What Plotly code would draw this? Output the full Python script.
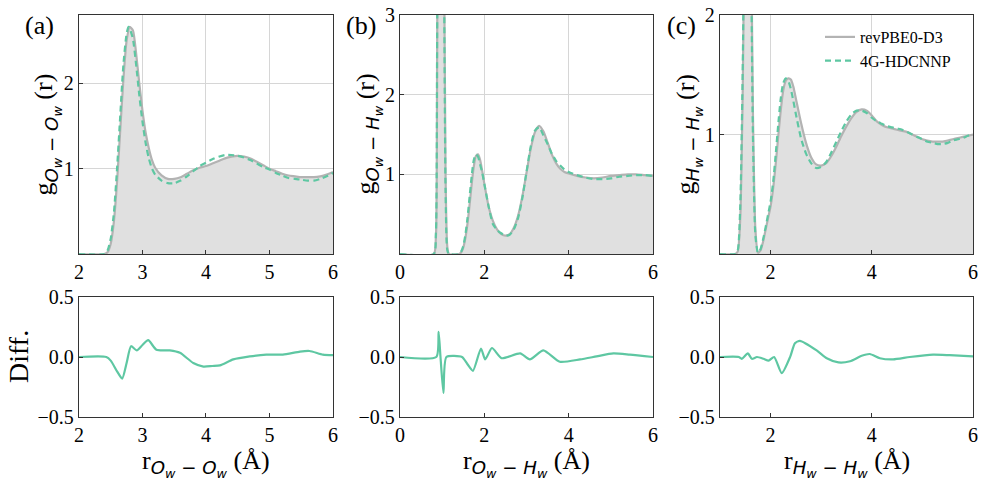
import plotly.graph_objects as go

# ---------------- data ----------------
# (a) O_w - O_w
oo_r_ref = [2.0, 2.40, 2.45, 2.50, 2.55, 2.60, 2.65, 2.70, 2.75, 2.80, 2.85, 2.90, 2.95, 3.00, 3.05, 3.10, 3.15, 3.20,
            3.30, 3.40, 3.50, 3.60, 3.70, 3.80, 3.90, 4.00, 4.10, 4.20, 4.30, 4.40, 4.50, 4.60, 4.70, 4.80, 4.90,
            5.00, 5.10, 5.20, 5.30, 5.40, 5.50, 5.60, 5.70, 5.80, 5.90, 6.00]
oo_g_ref = [0.0, 0.0, 0.02, 0.12, 0.38, 0.85, 1.45, 2.05, 2.50, 2.66, 2.62, 2.35, 2.00, 1.68, 1.42, 1.24, 1.10, 1.01,
            0.92, 0.88, 0.88, 0.90, 0.94, 0.98, 1.01, 1.03, 1.06, 1.09, 1.12, 1.14, 1.15, 1.14, 1.12, 1.08, 1.04,
            1.00, 0.97, 0.94, 0.92, 0.91, 0.90, 0.90, 0.90, 0.91, 0.93, 0.96]
oo_r_nn = [2.0, 2.40, 2.45, 2.50, 2.55, 2.60, 2.65, 2.70, 2.75, 2.78, 2.80, 2.85, 2.90, 2.95, 3.00, 3.05, 3.10, 3.15,
           3.20, 3.30, 3.40, 3.50, 3.60, 3.70, 3.80, 3.90, 4.00, 4.10, 4.20, 4.30, 4.40, 4.50, 4.60, 4.70, 4.80,
           4.90, 5.00, 5.10, 5.20, 5.30, 5.40, 5.50, 5.60, 5.70, 5.80, 5.90, 6.00]
oo_g_nn = [0.0, 0.0, 0.04, 0.18, 0.48, 1.00, 1.62, 2.22, 2.58, 2.66, 2.64, 2.52, 2.22, 1.86, 1.55, 1.30, 1.12, 1.00,
           0.93, 0.86, 0.83, 0.83, 0.86, 0.91, 0.97, 1.03, 1.07, 1.11, 1.14, 1.16, 1.16, 1.15, 1.13, 1.10, 1.06,
           1.02, 0.99, 0.95, 0.92, 0.89, 0.88, 0.87, 0.86, 0.86, 0.88, 0.91, 0.95]
oo_r_diff = [2.0, 2.43, 2.50, 2.60, 2.68, 2.75, 2.82, 2.91, 3.00, 3.09, 3.22, 3.43, 3.59, 3.80, 3.96, 4.10, 4.22,
             4.43, 4.69, 4.95, 5.21, 5.48, 5.63, 5.84, 6.00]
oo_diff = [0.0, 0.0, -0.03, -0.12, -0.18, -0.05, 0.09, 0.055, 0.10, 0.14, 0.06, 0.055, 0.035, -0.05, -0.08, -0.075,
           -0.07, -0.02, 0.005, 0.02, 0.02, 0.045, 0.05, 0.02, 0.015]

# (b) O_w - H_w
oh_r_ref = [0.0, 0.80, 0.85, 0.88, 0.92, 0.96, 1.00, 1.04, 1.08, 1.12, 1.16, 1.40, 1.45, 1.50, 1.55, 1.60, 1.65, 1.70,
            1.75, 1.80, 1.85, 1.90, 1.95, 2.00, 2.10, 2.20, 2.30, 2.40, 2.50, 2.60, 2.70, 2.80, 2.90, 3.00, 3.10,
            3.20, 3.30, 3.40, 3.50, 3.60, 3.70, 3.80, 3.90, 4.00, 4.20, 4.40, 4.60, 4.80, 5.00, 5.20, 5.40, 5.60,
            5.80, 6.00]
oh_g_ref = [0.0, 0.0, 0.2, 2.5, 8.5, 11.5, 9.5, 4.5, 1.0, 0.1, 0.0, 0.0, 0.02, 0.08, 0.20, 0.38, 0.62, 0.88,
            1.10, 1.23, 1.25, 1.18, 1.04, 0.88, 0.60, 0.42, 0.31, 0.25, 0.23, 0.25, 0.33, 0.48, 0.72, 1.02, 1.32,
            1.53, 1.61, 1.54, 1.40, 1.25, 1.14, 1.07, 1.03, 1.01, 0.98, 0.96, 0.95, 0.96, 0.98, 0.99, 1.00, 1.00,
            0.99, 0.98]
oh_r_nn = oh_r_ref
oh_g_nn = [0.0, 0.0, 0.25, 2.7, 8.7, 11.5, 9.2, 4.0, 0.8, 0.05, 0.0, 0.0, 0.03, 0.10, 0.24, 0.45, 0.72, 0.98,
           1.18, 1.25, 1.22, 1.12, 1.02, 0.88, 0.60, 0.38, 0.30, 0.26, 0.23, 0.24, 0.31, 0.45, 0.70, 1.03, 1.35,
           1.55, 1.59, 1.49, 1.38, 1.26, 1.17, 1.11, 1.06, 1.03, 0.99, 0.96, 0.94, 0.94, 0.95, 0.97, 0.98, 0.99,
           0.99, 0.98]
oh_r_diff = [0.0, 0.86, 0.915, 0.96, 1.03, 1.10, 1.47, 1.60, 1.73, 1.92, 2.02, 2.18, 2.41, 2.85, 3.08, 3.40, 3.79,
             4.27, 4.66, 5.06, 5.45, 6.00]
oh_diff = [0.0, 0.0, 0.21, 0.0, -0.30, 0.0, 0.0, -0.06, -0.115, 0.07, -0.02, 0.075, -0.01, 0.03, -0.02, 0.055, -0.04,
           -0.02, 0.005, 0.03, 0.02, 0.0]

# (c) H_w - H_w
hh_r_ref = [1.00, 1.30, 1.35, 1.40, 1.45, 1.50, 1.55, 1.60, 1.65, 1.70, 1.75, 1.80, 1.85, 1.90, 1.95, 2.00, 2.05,
            2.10, 2.15, 2.20, 2.25, 2.30, 2.35, 2.40, 2.45, 2.50, 2.60, 2.70, 2.80, 2.90, 3.00, 3.10, 3.20, 3.30,
            3.40, 3.50, 3.60, 3.70, 3.80, 3.90, 4.00, 4.10, 4.20, 4.30, 4.40, 4.50, 4.60, 4.70, 4.80, 4.90, 5.00,
            5.10, 5.20, 5.30, 5.40, 5.50, 5.60, 5.70, 5.80, 5.90, 6.00]
hh_g_ref = [0.0, 0.0, 0.02, 0.3, 1.4, 3.4, 4.4, 3.3, 1.2, 0.2, 0.01, 0.03, 0.10, 0.20, 0.30, 0.40, 0.55,
            0.75, 0.98, 1.20, 1.37, 1.45, 1.47, 1.46, 1.40, 1.30, 1.10, 0.93, 0.81, 0.75, 0.74, 0.76, 0.82, 0.90,
            0.99, 1.07, 1.14, 1.19, 1.21, 1.20, 1.16, 1.11, 1.08, 1.06, 1.05, 1.04, 1.03, 1.02, 1.00, 0.98, 0.96,
            0.95, 0.94, 0.94, 0.94, 0.95, 0.96, 0.97, 0.98, 0.99, 1.00]
hh_r_nn = hh_r_ref
hh_g_nn = [0.0, 0.0, 0.03, 0.4, 1.6, 3.6, 4.4, 3.1, 1.0, 0.15, 0.01, 0.04, 0.12, 0.22, 0.33, 0.44, 0.60,
           0.83, 1.08, 1.30, 1.43, 1.47, 1.45, 1.38, 1.28, 1.17, 0.97, 0.84, 0.76, 0.72, 0.73, 0.77, 0.85, 0.94,
           1.03, 1.11, 1.17, 1.20, 1.20, 1.18, 1.14, 1.11, 1.09, 1.07, 1.06, 1.05, 1.04, 1.02, 1.00, 0.98, 0.96,
           0.94, 0.93, 0.92, 0.92, 0.93, 0.95, 0.96, 0.97, 0.99, 1.00]
hh_r_diff = [1.00, 1.37, 1.43, 1.55, 1.63, 1.73, 1.86, 1.96, 2.07, 2.22, 2.39, 2.48, 2.58, 2.91, 3.11, 3.34, 3.57,
             3.80, 3.96, 4.16, 4.42, 4.75, 5.21, 5.54, 6.00]
hh_diff = [0.0, 0.0, -0.015, 0.03, -0.015, 0.0, -0.015, -0.03, 0.0, -0.135, 0.005, 0.115, 0.135, 0.055, -0.01,
           -0.045, -0.035, 0.01, 0.025, -0.01, -0.02, 0.0, 0.02, 0.015, 0.005]

labels = ["(a)", "(b)", "(c)"]
legend_names = ["revPBE0-D3", "4G-HDCNNP"]

# ---------------- style ----------------
TEAL = "#5ec7a2"
GRAYLINE = "#b3b3b3"
FILL = "#e0e0e0"
SERIF = "Liberation Serif"

panels = [
    dict(r_ref=oo_r_ref, g_ref=oo_g_ref, r_nn=oo_r_nn, g_nn=oo_g_nn, r_d=oo_r_diff, d=oo_diff,
         xr=[2, 6], yr=[0, 2.8], xt=[2, 3, 4, 5, 6], yt=[1, 2], xb=[2, 3, 4, 5, 6],
         dom=[0.0800, 0.3374], a="O", b="O"),
    dict(r_ref=oh_r_ref, g_ref=oh_g_ref, r_nn=oh_r_nn, g_nn=oh_g_nn, r_d=oh_r_diff, d=oh_diff,
         xr=[0, 6], yr=[0, 3], xt=[0, 2, 4, 6], yt=[1, 2, 3], xb=[0, 2, 4, 6],
         dom=[0.4053, 0.6616], a="O", b="H"),
    dict(r_ref=hh_r_ref, g_ref=hh_g_ref, r_nn=hh_r_nn, g_nn=hh_g_nn, r_d=hh_r_diff, d=hh_diff,
         xr=[1, 6], yr=[0, 2], xt=[2, 4, 6], yt=[1, 2], xb=[2, 4, 6],
         dom=[0.7295, 0.9858], a="H", b="H"),
]

TOP = [1 - 254 / 486, 1 - 15 / 486]
BOT = [1 - 417 / 486, 1 - 297 / 486]

fig = go.Figure()
axis_common = dict(showline=True, mirror=True, linecolor="#333333", linewidth=1.3,
                   ticks="inside", ticklen=4, tickwidth=1, tickcolor="#333333", automargin=False,
                   zeroline=False, tickfont=dict(family=SERIF, size=20, color="black"))


def sub_label(a, b):
    return ("<span style=\"font-family:'DejaVu Sans'\"><i>%s<sub>w</sub> \u2212 %s<sub>w</sub></i></span>" % (a, b))


for i, p in enumerate(panels):
    k_top = 2 * i + 1
    k_bot = 2 * i + 2
    xt_name = "x%d" % k_top if k_top > 1 else "x"
    yt_name = "y%d" % k_top if k_top > 1 else "y"
    xb_name = "x%d" % k_bot
    yb_name = "y%d" % k_bot
    show = (i == 2)
    fig.add_trace(go.Scatter(x=p["r_ref"], y=p["g_ref"], mode="lines", fill="tozeroy", fillcolor=FILL,
                             line=dict(width=0, shape="spline", smoothing=0.6), showlegend=False,
                             hoverinfo="skip", xaxis=xt_name, yaxis=yt_name))
    fig.add_trace(go.Scatter(x=p["r_ref"], y=p["g_ref"], mode="lines", name=legend_names[0],
                             line=dict(color=GRAYLINE, width=2.2, shape="spline", smoothing=0.6),
                             showlegend=show, xaxis=xt_name, yaxis=yt_name))
    fig.add_trace(go.Scatter(x=p["r_nn"], y=p["g_nn"], mode="lines", name=legend_names[1],
                             line=dict(color=TEAL, width=2.2, dash="6px,4px", shape="spline", smoothing=0.6),
                             showlegend=show, xaxis=xt_name, yaxis=yt_name))
    fig.add_trace(go.Scatter(x=p["r_d"], y=p["d"], mode="lines",
                             line=dict(color=TEAL, width=2.2, shape="spline", smoothing=0.6),
                             showlegend=False, xaxis=xb_name, yaxis=yb_name))

    lx = "xaxis%d" % k_top if k_top > 1 else "xaxis"
    ly = "yaxis%d" % k_top if k_top > 1 else "yaxis"
    fig.layout[lx] = dict(axis_common, domain=p["dom"], range=p["xr"], anchor=yt_name,
                          tickvals=p["xt"], showgrid=True, gridcolor="#d6d6d6", gridwidth=1)
    fig.layout[ly] = dict(axis_common, domain=TOP, range=p["yr"], anchor=xt_name,
                          tickvals=p["yt"], showgrid=True, gridcolor="#d6d6d6", gridwidth=1)
    fig.layout["xaxis%d" % k_bot] = dict(axis_common, domain=p["dom"], range=p["xr"], anchor=yb_name,
                                         tickvals=p["xb"], showgrid=False)
    fig.layout["yaxis%d" % k_bot] = dict(axis_common, domain=BOT, range=[-0.5, 0.5], anchor=xb_name,
                                         tickvals=[-0.5, 0, 0.5], ticktext=["\u22120.5", "0.0", "0.5"],
                                         showgrid=False)

    x0 = p["dom"][0]
    xc = (p["dom"][0] + p["dom"][1]) / 2
    fig.add_annotation(xref="paper", yref="paper", x=x0 - 32 / 987, y=(TOP[0] + TOP[1]) / 2,
                       text="g<sub>" + sub_label(p["a"], p["b"]) + "</sub> (r)", textangle=-90,
                       showarrow=False, font=dict(family=SERIF, size=26, color="black"),
                       xanchor="center", yanchor="middle")
    fig.add_annotation(xref="paper", yref="paper", x=xc, y=1 - 463 / 486,
                       text="r<sub>" + sub_label(p["a"], p["b"]) + "</sub> (\u00c5)",
                       showarrow=False, font=dict(family=SERIF, size=26, color="black"),
                       xanchor="center", yanchor="middle")
    fig.add_annotation(xref="paper", yref="paper", x=x0 - 39 / 987, y=1 - 25 / 486,
                       text=labels[i], showarrow=False, font=dict(family=SERIF, size=26, color="black"),
                       xanchor="center", yanchor="middle")

fig.add_annotation(xref="paper", yref="paper", x=18 / 987, y=(BOT[0] + BOT[1]) / 2, text="Diff.",
                   textangle=-90, showarrow=False, font=dict(family=SERIF, size=28, color="black"),
                   xanchor="center", yanchor="middle")

fig.update_layout(width=987, height=486, margin=dict(l=0, r=0, t=0, b=0, autoexpand=False),
                  paper_bgcolor="white", plot_bgcolor="white",
                  legend=dict(x=820 / 987, y=1 - 20 / 486, xanchor="left", yanchor="top",
                              bgcolor="rgba(0,0,0,0)", font=dict(family=SERIF, size=16, color="black"),
                              tracegroupgap=0, itemwidth=30))

fig.write_html("out.html", config={"displayModeBar": False},
               post_script="document.body.style.margin='0px';document.body.style.overflow='hidden';")
